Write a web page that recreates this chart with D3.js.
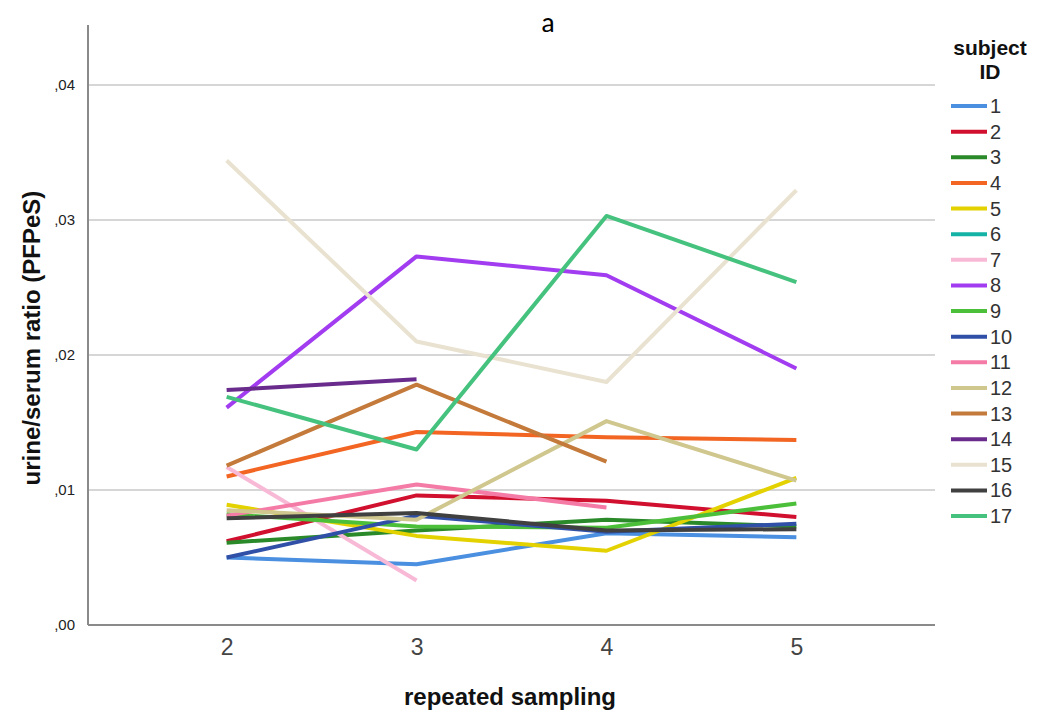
<!DOCTYPE html>
<html>
<head>
<meta charset="utf-8">
<script src="https://cdn.jsdelivr.net/npm/d3@7"></script>
<style>
  body { margin: 0; background: #fff; }
  svg text { font-family: "Liberation Sans", Arial, sans-serif; }
</style>
</head>
<body>
<div id="chart"></div>
<script>
// repeated sampling occasions on the x axis
const samplings = [2, 3, 4, 5];
const yTicks = [0, 0.01, 0.02, 0.03, 0.04];
const subjectIds = ['1','2','3','4','5','6','7','8','9','10','11','12','13','14','15','16','17'];
const subjectColors = ['#4a8fe0','#d0102e','#2a8a2a','#f26522','#e3d200','#14b3a6','#f8b9d6','#a23cf0',
  '#4cbf3a','#3050a8','#f47ba6','#cfc78e','#c47a3a','#6a2c8c','#e9e2d0','#404040','#45c27e'];

// urine/serum ratio per subject, one value per sampling (null = missing)
const s1  = [0.0050, 0.0045, 0.0068, 0.0065];
const s2  = [0.0062, 0.0096, 0.0092, 0.0080];
const s3  = [0.0061, 0.0070, 0.0078, 0.0073];
const s4  = [0.0110, 0.0143, 0.0139, 0.0137];
const s5  = [0.0089, 0.0066, 0.0055, 0.0109];
const s6  = [null, null, null, null];
const s7  = [0.0117, 0.0033, null, null];
const s8  = [0.0161, 0.0273, 0.0259, 0.0190];
const s9  = [0.0082, 0.0073, 0.0072, 0.0090];
const s10 = [0.0050, 0.0081, 0.0069, 0.0075];
const s11 = [0.0081, 0.0104, 0.0087, null];
const s12 = [0.0085, 0.0078, 0.0151, 0.0107];
const s13 = [0.0118, 0.0178, 0.0121, null];
const s14 = [0.0174, 0.0182, null, null];
const s15 = [0.0344, 0.0210, 0.0180, 0.0322];
const s16 = [0.0079, 0.0083, 0.0070, 0.0071];
const s17 = [0.0169, 0.0130, 0.0303, 0.0254];
const seriesValues = [s1,s2,s3,s4,s5,s6,s7,s8,s9,s10,s11,s12,s13,s14,s15,s16,s17];

const W = 1038, H = 715;
const plotLeft = 88, plotRight = 935, plotTop = 25, plotBottom = 625;
const narrow = '"Liberation Sans Narrow", "Liberation Sans", Arial, sans-serif';

const svg = d3.select('#chart').append('svg')
  .attr('width', W).attr('height', H);

const x = d3.scaleLinear().domain([1.27, 5.73]).range([plotLeft, plotRight]);
const y = d3.scaleLinear().domain([0, 0.04444]).range([plotBottom, plotTop]);

// grid lines
svg.append('g')
  .selectAll('line')
  .data(yTicks.filter(d => d > 0))
  .enter()
  .append('line')
  .attr('x1', plotLeft).attr('x2', plotRight)
  .attr('y1', d => y(d)).attr('y2', d => y(d))
  .attr('stroke', '#c8c8c8')
  .attr('stroke-width', 1.5);

// axes
const fmt = d => ',' + d3.format('.2f')(d).replace('0.', '');
const yAxis = svg.append('g')
  .attr('transform', 'translate(' + plotLeft + ',0)')
  .call(d3.axisLeft(y).tickValues(yTicks).tickFormat(fmt).tickSize(0).tickPadding(13));
yAxis.select('.domain').attr('stroke', '#8a8a8a').attr('stroke-width', 2)
  .attr('d', 'M0,' + plotTop + 'V' + plotBottom);
yAxis.selectAll('text').attr('font-size', 15).attr('fill', '#222');

const xAxis = svg.append('g')
  .attr('transform', 'translate(0,' + plotBottom + ')')
  .call(d3.axisBottom(x).tickValues(samplings).tickFormat(d3.format('d')).tickSize(0).tickPadding(14));
xAxis.select('.domain').attr('stroke', '#8a8a8a').attr('stroke-width', 2)
  .attr('d', 'M' + plotLeft + ',0H' + plotRight);
xAxis.selectAll('text').attr('font-size', 23).attr('fill', '#444')
  .attr('font-family', narrow);

// subject lines
const line = d3.line()
  .defined(d => d.v !== null)
  .x(d => x(d.s))
  .y(d => y(d.v));

svg.append('g')
  .selectAll('path')
  .data(seriesValues.map((vals, i) => ({ id: subjectIds[i], color: subjectColors[i],
    pts: vals.map((v, j) => ({ s: samplings[j], v: v })) })))
  .enter()
  .append('path')
  .attr('d', d => line(d.pts))
  .attr('fill', 'none')
  .attr('stroke', d => d.color)
  .attr('stroke-width', 4)
  .attr('stroke-linejoin', 'round');

// titles
svg.append('text')
  .attr('x', 548).attr('y', 32)
  .attr('text-anchor', 'middle')
  .attr('font-size', 28)
  .style('font-family', 'Carlito, "Open Sans", sans-serif')
  .text('a');

svg.append('text')
  .attr('x', 510).attr('y', 705)
  .attr('text-anchor', 'middle')
  .attr('font-size', 24)
  .attr('font-weight', 'bold')
  .attr('fill', '#111')
  .attr('font-family', narrow)
  .text('repeated sampling');

svg.append('text')
  .attr('transform', 'translate(40,' + 338 + ') rotate(-90)')
  .attr('text-anchor', 'middle')
  .attr('font-size', 24)
  .attr('font-weight', 'bold')
  .attr('fill', '#111')
  .attr('font-family', narrow)
  .text('urine/serum ratio (PFPeS)');

// legend
const legend = svg.append('g');
legend.append('text')
  .attr('x', 990).attr('y', 55)
  .attr('text-anchor', 'middle')
  .attr('font-size', 21).attr('font-weight', 'bold').attr('fill', '#111')
  .attr('font-family', narrow)
  .text('subject');
legend.append('text')
  .attr('x', 990).attr('y', 79)
  .attr('text-anchor', 'middle')
  .attr('font-size', 21).attr('font-weight', 'bold').attr('fill', '#111')
  .attr('font-family', narrow)
  .text('ID');

const ly = d3.scaleLinear().domain([0, 16]).range([106, 516]);
const items = legend.selectAll('g.item')
  .data(subjectIds)
  .enter()
  .append('g')
  .attr('class', 'item')
  .attr('transform', (d, i) => 'translate(0,' + ly(i) + ')');
items.append('line')
  .attr('x1', 951).attr('x2', 987)
  .attr('stroke', (d, i) => subjectColors[i])
  .attr('stroke-width', 4);
items.append('text')
  .attr('x', 990).attr('y', 7)
  .attr('font-size', 20).attr('fill', '#333')
  .attr('font-family', narrow)
  .text(d => d);
</script>
</body>
</html>
